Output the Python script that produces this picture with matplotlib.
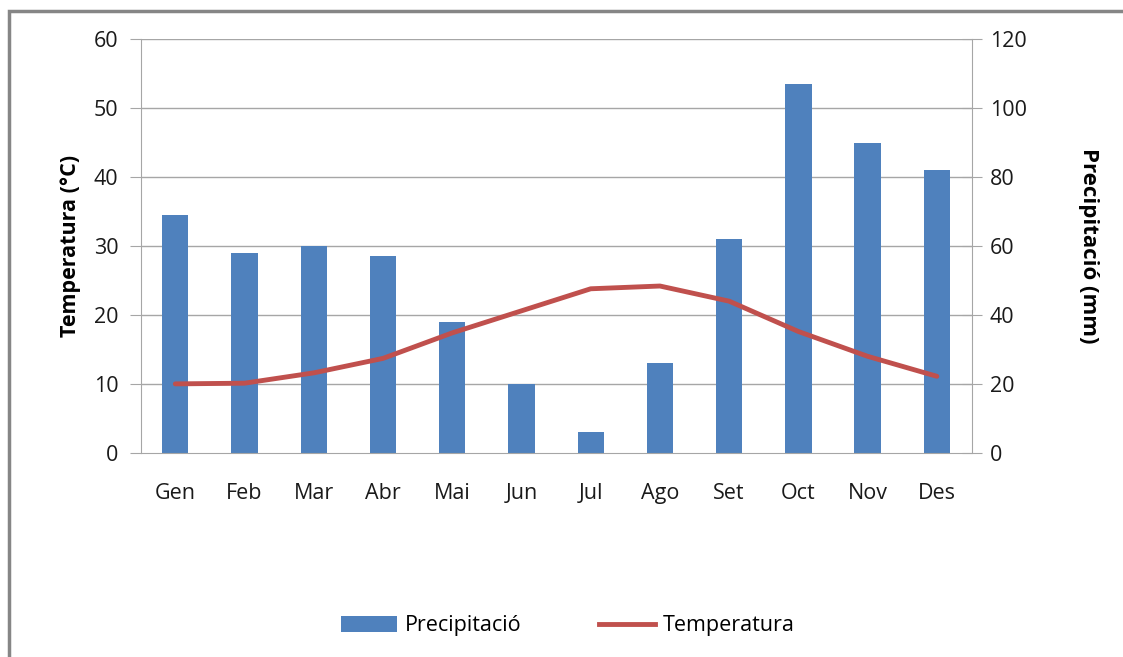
import matplotlib
matplotlib.use("Agg")
import matplotlib.pyplot as plt
from matplotlib.patches import Rectangle
from matplotlib.lines import Line2D
from matplotlib.patches import Patch

months = ["Gen", "Feb", "Mar", "Abr", "Mai", "Jun", "Jul", "Ago", "Set", "Oct", "Nov", "Des"]
precip = [69, 58, 60, 57, 38, 20, 6, 26, 62, 107, 90, 82]
temp = [10.0, 10.1, 11.6, 13.7, 17.4, 20.6, 23.8, 24.2, 22.0, 17.6, 14.0, 11.1]

plt.rcParams['font.family'] = ['Open Sans', 'DejaVu Sans']

W, H = 1123, 657
fig = plt.figure(figsize=(W / 100, H / 100), dpi=100)

# outer frame
fig.patches.append(Rectangle((9 / W, -0.05), 1.2, (H - 11) / H + 0.05, transform=fig.transFigure,
                             fill=False, edgecolor='#868686', linewidth=2.5, zorder=0))

left, right, top, bottom = 140.7, 971.5, 39.3, 452.8
ax = fig.add_axes([left / W, 1 - bottom / H, (right - left) / W, (bottom - top) / H])
ax2 = ax.twinx()

x = list(range(len(months)))
grid_c = '#a6a6a6'
fs = 15.5

# bars on secondary axis (precip)
ax2.bar(x, precip, width=0.38, color='#4f81bd', zorder=2)
ax2.set_ylim(0, 120)
ax2.set_yticks(range(0, 121, 20))

# temperature on primary axis
ax.set_zorder(ax2.get_zorder() + 1)
ax.patch.set_visible(False)
ax.plot(x, temp, color='#c0504d', linewidth=3.5, solid_capstyle='round', zorder=3)
ax.set_ylim(0, 60)
ax.set_yticks(range(0, 61, 10))
ax.set_xlim(-0.5, 11.5)
ax.set_xticks(x)
ax.set_xticklabels(months)

for v in range(10, 61, 10):
    ax2.axhline(v * 2, color=grid_c, linewidth=1, zorder=0)

for a in (ax, ax2):
    for s in a.spines.values():
        s.set_visible(False)
ax.spines['left'].set_visible(True)
ax.spines['left'].set_color(grid_c)
ax.spines['bottom'].set_visible(True)
ax.spines['bottom'].set_color(grid_c)
ax2.spines['right'].set_visible(True)
ax2.spines['right'].set_color(grid_c)

ax.tick_params(axis='y', direction='out', length=8, color=grid_c, labelsize=fs,
               labelcolor='#1a1a1a', pad=8)
ax.tick_params(axis='x', length=0, labelsize=fs, labelcolor='#1a1a1a', pad=22)
ax2.tick_params(axis='y', direction='inout', length=14, color=grid_c, labelsize=fs,
                labelcolor='#1a1a1a', pad=6)

ax.set_ylabel("Temperatura (°C)", fontsize=15.5, fontweight='bold', labelpad=9)
ax2.set_ylabel("Precipitació (mm)", fontsize=16, fontweight='bold', rotation=-90,
               labelpad=52)

handles = [Patch(facecolor='#4f81bd', label='Precipitació'),
           Line2D([0], [0], color='#c0504d', linewidth=3.5, label='Temperatura')]
fig.legend(handles=handles, loc='center', bbox_to_anchor=(568 / W, 1 - 626 / H), ncol=2,
           frameon=False, fontsize=fs, handlelength=2.6, handleheight=0.7,
           columnspacing=3.6, handletextpad=0.35)

fig.savefig("out.png", dpi=100)
